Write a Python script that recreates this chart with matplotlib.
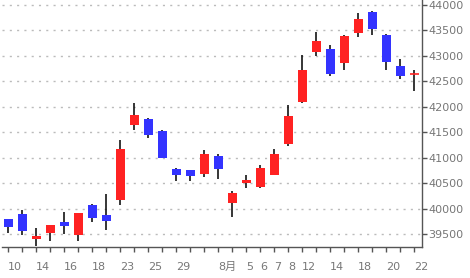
import matplotlib
matplotlib.use("Agg")
import matplotlib.pyplot as plt
import numpy

labels = ["10", "", "14", "", "16", "", "18", "", "23", "", "25", "", "29", "", "",
          "8月", "", "5", "6", "7", "8", "12", "", "14", "", "18", "", "20", "", "22"]

opens = [39796, 39894, 39409, 39527, 39737, 39488, 40071, 39874, 40175, 41649,
         41760, 41524, 40778, 40758, 40686, 41033, 40116, 40509, 40424, 40667,
         41269, 42094, 43083, 43136, 42867, 43456, 43862, 43411, 42802, 42638]
highs = [39800, 39972, 39619, 39680, 39933, 39913, 40090, 40287, 41348, 42075,
         41780, 41544, 40798, 40758, 41151, 41073, 40346, 40660, 40856, 41171,
         42035, 43018, 43476, 43214, 43417, 43843, 43882, 43430, 42939, 42723]
lows = [39527, 39488, 39272, 39370, 39501, 39370, 39743, 39586, 40077, 41544,
        41387, 41001, 40542, 40542, 40627, 40588, 39841, 40411, 40411, 40667,
        41236, 42075, 43005, 42612, 42723, 43378, 43417, 42730, 42553, 42317]
closes = [39639, 39566, 39462, 39678, 39665, 39913, 39822, 39763, 41171, 41839,
          41446, 41001, 40667, 40647, 41073, 40778, 40306, 40562, 40798, 41073,
          41819, 42723, 43293, 42651, 43391, 43725, 43528, 42887, 42612, 42638]

RED = "#ff2222"
BLUE = "#3333ff"


def main():
    fig = plt.figure(figsize=(4.7, 2.78), dpi=100)
    ax = fig.add_axes([2/470., 30.7/278., 419.7/470., 247.3/278.])

    x = numpy.arange(len(opens))
    o = numpy.array(opens)
    c = numpy.array(closes)

    # wicks
    ax.vlines(x, lows, highs, color="black", linewidth=1.1, zorder=2)

    # bodies
    colors = [RED if c[i] >= o[i] else BLUE for i in range(len(x))]
    bottoms = numpy.minimum(o, c)
    heights = numpy.abs(c - o)
    ax.bar(x, heights, width=0.64, bottom=bottoms, color=colors, zorder=3)
    for i in range(len(x)):
        if heights[i] == 0:
            ax.hlines(o[i], x[i] - 0.32, x[i] + 0.32, color=RED, linewidth=1.2, zorder=4)

    ax.set_xlim(-0.45, 29.53)
    ax.set_ylim(39240, 44098)
    ax.set_yticks(numpy.arange(39500, 44001, 500))
    ax.set_xticks(x)
    ax.set_xticklabels(labels, ha="left")

    ax.yaxis.tick_right()
    ax.grid(True, axis="y", color="#bbbbbb", linestyle=(0, (1.5, 3.75)), linewidth=1.0)
    ax.set_axisbelow(True)

    for s in ["left", "top"]:
        ax.spines[s].set_visible(False)
    for s in ["right", "bottom"]:
        ax.spines[s].set_color("#555555")
        ax.spines[s].set_linewidth(1.0)

    ax.tick_params(axis="x", length=3.6, width=1.0, color="#555555", pad=7,
                   labelsize=8, labelcolor="#777777")
    ax.tick_params(axis="y", length=3.6, width=1.0, color="#555555", pad=1.2,
                   labelsize=8, labelcolor="#777777")
    for t in ax.get_xticklabels() + ax.get_yticklabels():
        t.set_family(["DejaVu Sans", "Noto Sans CJK JP"])

    fig.savefig("out.png", dpi=100)


if __name__ == '__main__':
    main()
